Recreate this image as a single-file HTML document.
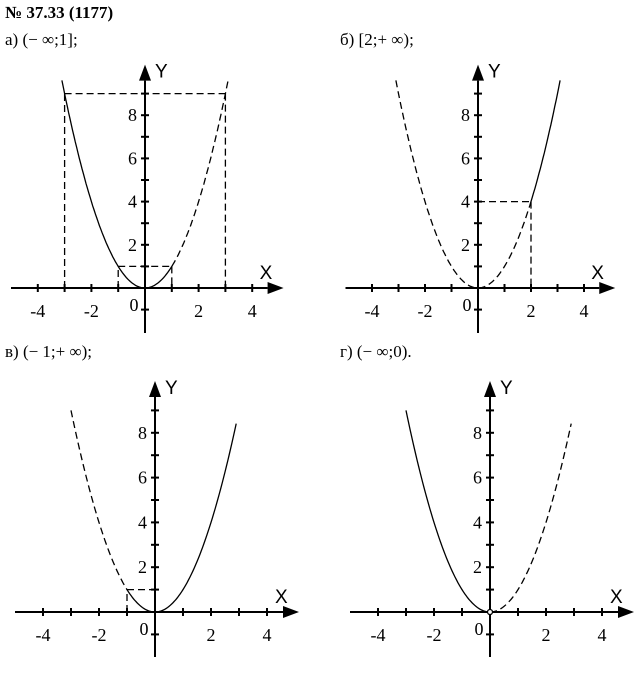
<!DOCTYPE html>
<html><head><meta charset="utf-8"><style>
body{margin:0;background:#fff;width:639px;height:679px;overflow:hidden}
svg text{font-family:"Liberation Serif",serif;fill:#000}
</style></head><body>
<svg id="s" width="639" height="679" xmlns="http://www.w3.org/2000/svg">
<text x="5" y="18" font-size="17" font-weight="bold">№ 37.33 (1177)</text>
<text x="5" y="45" font-size="17">а) (− ∞;1];</text>
<text x="340" y="45" font-size="17">б) [2;+ ∞);</text>
<text x="5" y="357" font-size="17">в) (− 1;+ ∞);</text>
<text x="340" y="357" font-size="17">г) (− ∞;0).</text>
</svg>
<script>
var s=document.getElementById('s'),NS='http://www.w3.org/2000/svg';
function el(t,a,txt){var e=document.createElementNS(NS,t);for(var k in a)e.setAttribute(k,a[k]);if(txt)e.textContent=txt;s.appendChild(e);return e;}
function panel(o){
 var ox=o.ox,oy=o.oy,ux=o.ux,uy=o.uy;
 function X(v){return ox+v*ux} function Y(v){return oy-v*uy}
 el('line',{x1:X(-5),y1:oy,x2:X(4.5)+2,y2:oy,stroke:'#000','stroke-width':2});
 el('polygon',{points:(X(4.5)+2)+','+(oy-6)+' '+(X(4.5)+18)+','+oy+' '+(X(4.5)+2)+','+(oy+6)});
 el('line',{x1:ox,y1:oy+45,x2:ox,y2:Y(9.6),stroke:'#000','stroke-width':2});
 el('polygon',{points:(ox-6)+','+Y(9.6)+' '+ox+','+(Y(9.6)-16)+' '+(ox+6)+','+Y(9.6)});
 for(var i=-4;i<=4;i++){if(i)el('line',{x1:X(i),y1:oy-4,x2:X(i),y2:oy+4,stroke:'#000','stroke-width':2});}
 for(var j=-1;j<=9;j++){if(j)el('line',{x1:ox-4,y1:Y(j),x2:ox+4,y2:Y(j),stroke:'#000','stroke-width':2});}
 [-4,-2,2,4].forEach(function(v){el('text',{x:X(v),y:oy+29,'font-size':18,'text-anchor':'middle'},String(v));});
 el('text',{x:ox-11,y:oy+23,'font-size':18,'text-anchor':'middle'},'0');
 [2,4,6,8].forEach(function(v){el('text',{x:ox-8,y:Y(v)+6,'font-size':18,'text-anchor':'end'},String(v));});
 el('text',{x:ox+10,y:Y(9.6)-3,'font-size':19,style:'font-family:"Liberation Sans",sans-serif'},'Y');
 el('text',{x:X(4.5)-6,y:oy-9,'font-size':19,style:'font-family:"Liberation Sans",sans-serif'},'X');
 o.segs.forEach(function(g){var d='';for(var t=g[0];t<=g[1]+1e-9;t+=0.05){d+=(d?'L':'M')+X(t).toFixed(1)+','+Y(t*t).toFixed(1);}
  el('path',{d:d,fill:'none',stroke:'#000','stroke-width':1.3,'stroke-dasharray':g[2]?'7,4':'none'});});
 (o.dash||[]).forEach(function(l){el('line',{x1:X(l[0]),y1:Y(l[1]),x2:X(l[2]),y2:Y(l[3]),stroke:'#000','stroke-width':1.3,'stroke-dasharray':'7,4'});});
 if(o.circ)el('circle',{cx:ox,cy:oy,r:2.5,fill:'#fff',stroke:'#000','stroke-width':1.3});
}
panel({ox:145,oy:288,ux:26.8,uy:21.6,segs:[[-3.1,1,0],[1,3.1,1]],dash:[[-3,0,-3,9],[-3,9,3,9],[3,9,3,0],[-1,0,-1,1],[-1,1,1,1],[1,1,1,0]]});
panel({ox:478,oy:288,ux:26.5,uy:21.6,segs:[[-3.1,2,1],[2,3.1,0]],dash:[[0,4,2,4],[2,4,2,0]]});
panel({ox:155,oy:612,ux:28,uy:22.4,segs:[[-3,-1,1],[-1,2.9,0]],dash:[[-1,0,-1,1],[-1,1,0,1]]});
panel({ox:490,oy:612,ux:28,uy:22.4,segs:[[-3,0,0],[0,2.9,1]],circ:1});
</script>
</body></html>
